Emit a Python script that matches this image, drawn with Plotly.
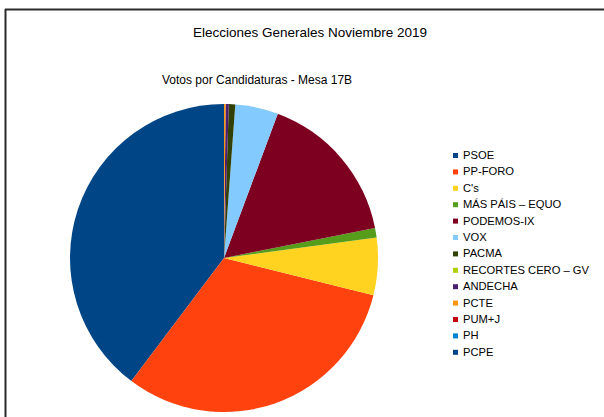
import plotly.graph_objects as go

W, H = 604, 417

labels = ["PSOE", "PP-FORO", "C's", "MÁS PÁIS – EQUO", "PODEMOS-IX", "VOX", "PACMA",
          "RECORTES CERO – GV", "ANDECHA", "PCTE", "PUM+J", "PH", "PCPE"]
votes = [238, 188, 36, 6, 97, 27, 4, 0, 2, 1, 0, 0, 0]
colors = ["#004586", "#ff420e", "#ffd320", "#579d1c", "#7e0021", "#83caff", "#314004",
          "#aecf00", "#4b1f6f", "#ff950e", "#c5000b", "#0084d1", "#004586"]

title_text = "Elecciones Generales Noviembre 2019"
subtitle_text = "Votos por Candidaturas - Mesa 17B"

FONT = "Liberation Sans, Arial, sans-serif"


def px(x):
    return x / W


def py(y):
    return 1 - y / H


cx, cy, r = 224, 258, 154
total = sum(votes)
# first slice begins at 12 o'clock and runs counterclockwise
rot = -360.0 * votes[0] / total

fig = go.Figure()
fig.add_trace(go.Pie(
    labels=labels,
    values=votes,
    marker=dict(colors=colors, line=dict(width=0)),
    sort=False,
    direction="counterclockwise",
    rotation=rot,
    textinfo="none",
    showlegend=False,
    domain=dict(x=[px(cx - r), px(cx + r)], y=[py(cy + r), py(cy - r)]),
))

annotations = [
    dict(text=title_text, x=px(310), y=py(33), xref="paper", yref="paper",
         xanchor="center", yanchor="middle", showarrow=False,
         font=dict(family=FONT, size=13.5, color="#000000")),
    dict(text=subtitle_text, x=px(257), y=py(80), xref="paper", yref="paper",
         xanchor="center", yanchor="middle", showarrow=False,
         font=dict(family=FONT, size=12, color="#000000")),
]
shapes = [
    dict(type="line", xref="paper", yref="paper", x0=px(5), x1=px(W + 5), y0=py(9.5), y1=py(9.5),
         line=dict(color="#2b2b2b", width=2)),
    dict(type="line", xref="paper", yref="paper", x0=px(5.5), x1=px(5.5), y0=py(9), y1=py(H + 5),
         line=dict(color="#2b2b2b", width=2)),
]

row0, step = 154.5, 16.4
for i, (lab, col) in enumerate(zip(labels, colors)):
    yc = row0 + step * i
    shapes.append(dict(type="rect", xref="paper", yref="paper",
                       x0=px(453), x1=px(458), y0=py(yc - 1.5), y1=py(yc + 3.5),
                       fillcolor=col, line=dict(width=0)))
    annotations.append(dict(text=lab, x=px(461), y=py(yc + 0.5), xref="paper", yref="paper",
                            xanchor="left", yanchor="middle", showarrow=False,
                            font=dict(family=FONT, size=11.2, color="#000000")))

fig.update_layout(
    width=W, height=H,
    margin=dict(l=0, r=0, t=0, b=0),
    paper_bgcolor="white",
    plot_bgcolor="white",
    annotations=annotations,
    shapes=shapes,
)

fig.write_html("out.html", config={"displayModeBar": False},
               post_script="document.body.style.margin='0px';")
